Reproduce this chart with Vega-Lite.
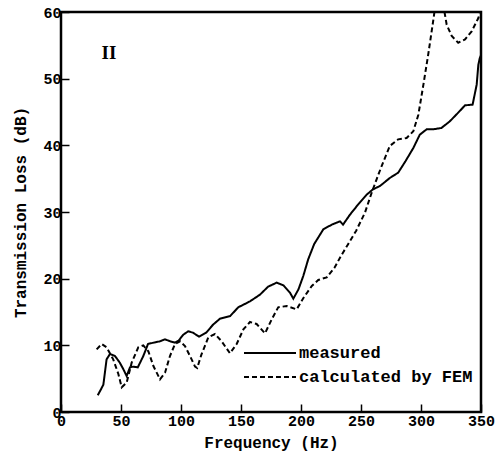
{
  "$schema": "https://vega.github.io/schema/vega-lite/v6.json",
  "autosize": {"type": "none"},
  "width": 420,
  "height": 400,
  "padding": {"left": 61, "top": 12, "right": 21, "bottom": 43},
  "background": "white",
  "config": {
    "view": {"stroke": "black", "strokeWidth": 2.5},
    "axis": {
      "labelFont": "Liberation Mono", "labelFontWeight": "bold", "labelFontSize": 15, "labelColor": "black",
      "titleFont": "Liberation Mono", "titleFontWeight": "bold", "titleFontSize": 16, "titleColor": "black",
      "grid": false, "zindex": 1
    }
  },
  "datasets": {
    "curves": [
      {"f": 30.6, "tl": 2.5, "series": "measured"},
      {"f": 33, "tl": 3.3, "series": "measured"},
      {"f": 35.3, "tl": 4.1, "series": "measured"},
      {"f": 37, "tl": 6.5, "series": "measured"},
      {"f": 38, "tl": 7.9, "series": "measured"},
      {"f": 40.8, "tl": 8.7, "series": "measured"},
      {"f": 45, "tl": 8.4, "series": "measured"},
      {"f": 49, "tl": 7.4, "series": "measured"},
      {"f": 52, "tl": 6.4, "series": "measured"},
      {"f": 54.7, "tl": 5.4, "series": "measured"},
      {"f": 57.5, "tl": 6.7, "series": "measured"},
      {"f": 60, "tl": 6.8, "series": "measured"},
      {"f": 64, "tl": 6.7, "series": "measured"},
      {"f": 68.6, "tl": 8.4, "series": "measured"},
      {"f": 72.5, "tl": 10.2, "series": "measured"},
      {"f": 77, "tl": 10.4, "series": "measured"},
      {"f": 82.5, "tl": 10.6, "series": "measured"},
      {"f": 86.7, "tl": 10.9, "series": "measured"},
      {"f": 91, "tl": 10.6, "series": "measured"},
      {"f": 95, "tl": 10.4, "series": "measured"},
      {"f": 98, "tl": 10.7, "series": "measured"},
      {"f": 101.9, "tl": 11.6, "series": "measured"},
      {"f": 106, "tl": 12.1, "series": "measured"},
      {"f": 110, "tl": 11.9, "series": "measured"},
      {"f": 115, "tl": 11.3, "series": "measured"},
      {"f": 121, "tl": 11.9, "series": "measured"},
      {"f": 126.7, "tl": 13.1, "series": "measured"},
      {"f": 132.5, "tl": 14.0, "series": "measured"},
      {"f": 141, "tl": 14.4, "series": "measured"},
      {"f": 147.7, "tl": 15.7, "series": "measured"},
      {"f": 157.5, "tl": 16.6, "series": "measured"},
      {"f": 165.8, "tl": 17.6, "series": "measured"},
      {"f": 172.6, "tl": 18.8, "series": "measured"},
      {"f": 179.7, "tl": 19.4, "series": "measured"},
      {"f": 185.4, "tl": 19.0, "series": "measured"},
      {"f": 190.8, "tl": 17.9, "series": "measured"},
      {"f": 193.6, "tl": 17.0, "series": "measured"},
      {"f": 197.9, "tl": 18.4, "series": "measured"},
      {"f": 201.9, "tl": 20.4, "series": "measured"},
      {"f": 206, "tl": 22.9, "series": "measured"},
      {"f": 211, "tl": 25.2, "series": "measured"},
      {"f": 218.6, "tl": 27.4, "series": "measured"},
      {"f": 225.6, "tl": 28.1, "series": "measured"},
      {"f": 232.5, "tl": 28.6, "series": "measured"},
      {"f": 235, "tl": 28.1, "series": "measured"},
      {"f": 240.8, "tl": 29.6, "series": "measured"},
      {"f": 247.5, "tl": 31.1, "series": "measured"},
      {"f": 254.7, "tl": 32.6, "series": "measured"},
      {"f": 260, "tl": 33.4, "series": "measured"},
      {"f": 265.8, "tl": 33.9, "series": "measured"},
      {"f": 274, "tl": 35.1, "series": "measured"},
      {"f": 281, "tl": 35.9, "series": "measured"},
      {"f": 287, "tl": 37.6, "series": "measured"},
      {"f": 293.6, "tl": 39.6, "series": "measured"},
      {"f": 299, "tl": 41.6, "series": "measured"},
      {"f": 304.7, "tl": 42.4, "series": "measured"},
      {"f": 310, "tl": 42.4, "series": "measured"},
      {"f": 317, "tl": 42.6, "series": "measured"},
      {"f": 324, "tl": 43.6, "series": "measured"},
      {"f": 331, "tl": 44.9, "series": "measured"},
      {"f": 336.7, "tl": 46.0, "series": "measured"},
      {"f": 343, "tl": 46.1, "series": "measured"},
      {"f": 346.4, "tl": 49.1, "series": "measured"},
      {"f": 347.8, "tl": 52.1, "series": "measured"},
      {"f": 349, "tl": 53.1, "series": "measured"},
      {"f": 350, "tl": 53.5, "series": "measured"},
      {"f": 29.7, "tl": 9.4, "series": "calculated by FEM"},
      {"f": 33.9, "tl": 10.2, "series": "calculated by FEM"},
      {"f": 38, "tl": 9.7, "series": "calculated by FEM"},
      {"f": 43.5, "tl": 7.9, "series": "calculated by FEM"},
      {"f": 47.8, "tl": 5.7, "series": "calculated by FEM"},
      {"f": 50.6, "tl": 3.7, "series": "calculated by FEM"},
      {"f": 54.7, "tl": 4.4, "series": "calculated by FEM"},
      {"f": 58.9, "tl": 7.4, "series": "calculated by FEM"},
      {"f": 64.4, "tl": 9.7, "series": "calculated by FEM"},
      {"f": 68.6, "tl": 10.0, "series": "calculated by FEM"},
      {"f": 72.8, "tl": 9.1, "series": "calculated by FEM"},
      {"f": 77, "tl": 6.9, "series": "calculated by FEM"},
      {"f": 82.5, "tl": 4.9, "series": "calculated by FEM"},
      {"f": 86.7, "tl": 5.9, "series": "calculated by FEM"},
      {"f": 90.8, "tl": 8.4, "series": "calculated by FEM"},
      {"f": 95, "tl": 10.2, "series": "calculated by FEM"},
      {"f": 99.2, "tl": 10.6, "series": "calculated by FEM"},
      {"f": 103.3, "tl": 9.9, "series": "calculated by FEM"},
      {"f": 107.5, "tl": 8.4, "series": "calculated by FEM"},
      {"f": 111.7, "tl": 6.8, "series": "calculated by FEM"},
      {"f": 113.5, "tl": 6.6, "series": "calculated by FEM"},
      {"f": 117, "tl": 8.6, "series": "calculated by FEM"},
      {"f": 122.8, "tl": 11.2, "series": "calculated by FEM"},
      {"f": 128.3, "tl": 11.7, "series": "calculated by FEM"},
      {"f": 133.9, "tl": 10.6, "series": "calculated by FEM"},
      {"f": 140.8, "tl": 8.8, "series": "calculated by FEM"},
      {"f": 146.4, "tl": 10.2, "series": "calculated by FEM"},
      {"f": 152, "tl": 12.4, "series": "calculated by FEM"},
      {"f": 157.5, "tl": 13.5, "series": "calculated by FEM"},
      {"f": 163, "tl": 13.2, "series": "calculated by FEM"},
      {"f": 170, "tl": 11.8, "series": "calculated by FEM"},
      {"f": 175.6, "tl": 13.9, "series": "calculated by FEM"},
      {"f": 181, "tl": 15.7, "series": "calculated by FEM"},
      {"f": 188, "tl": 15.9, "series": "calculated by FEM"},
      {"f": 196.4, "tl": 15.4, "series": "calculated by FEM"},
      {"f": 202, "tl": 17.1, "series": "calculated by FEM"},
      {"f": 209, "tl": 18.9, "series": "calculated by FEM"},
      {"f": 214.4, "tl": 19.8, "series": "calculated by FEM"},
      {"f": 221.4, "tl": 20.2, "series": "calculated by FEM"},
      {"f": 227.8, "tl": 21.6, "series": "calculated by FEM"},
      {"f": 233.3, "tl": 23.4, "series": "calculated by FEM"},
      {"f": 239, "tl": 25.1, "series": "calculated by FEM"},
      {"f": 246, "tl": 27.2, "series": "calculated by FEM"},
      {"f": 253.3, "tl": 29.9, "series": "calculated by FEM"},
      {"f": 258.9, "tl": 32.9, "series": "calculated by FEM"},
      {"f": 263, "tl": 34.9, "series": "calculated by FEM"},
      {"f": 267.2, "tl": 36.9, "series": "calculated by FEM"},
      {"f": 274, "tl": 39.9, "series": "calculated by FEM"},
      {"f": 281, "tl": 40.9, "series": "calculated by FEM"},
      {"f": 288, "tl": 41.1, "series": "calculated by FEM"},
      {"f": 293.6, "tl": 42.1, "series": "calculated by FEM"},
      {"f": 297.8, "tl": 44.6, "series": "calculated by FEM"},
      {"f": 302, "tl": 49.1, "series": "calculated by FEM"},
      {"f": 306, "tl": 53.6, "series": "calculated by FEM"},
      {"f": 309.7, "tl": 58.1, "series": "calculated by FEM"},
      {"f": 312, "tl": 61, "series": "calculated by FEM"},
      {"f": 314, "tl": 66, "series": "calculated by FEM"},
      {"f": 316.5, "tl": 66, "series": "calculated by FEM"},
      {"f": 318.6, "tl": 61, "series": "calculated by FEM"},
      {"f": 321.4, "tl": 58.1, "series": "calculated by FEM"},
      {"f": 325.6, "tl": 56.4, "series": "calculated by FEM"},
      {"f": 331, "tl": 55.4, "series": "calculated by FEM"},
      {"f": 336.7, "tl": 55.9, "series": "calculated by FEM"},
      {"f": 342.2, "tl": 57.1, "series": "calculated by FEM"},
      {"f": 347.8, "tl": 59.1, "series": "calculated by FEM"},
      {"f": 349, "tl": 59.8, "series": "calculated by FEM"}
    ],
    "panel": [
      {"f": 40, "tl": 53.8, "label": "II"}
    ]
  },
  "encoding": {
    "x": {"field": "f", "type": "quantitative", "scale": {"domain": [0, 350], "nice": false},
          "axis": {"values": [0, 50, 100, 150, 200, 250, 300, 350], "title": "Frequency (Hz)", "domain": false, "ticks": true, "tickColor": "black", "tickWidth": 1.5, "tickSize": -8, "labelPadding": 9, "titleY": 30, "titleBaseline": "middle", "labelFlush": false}},
    "y": {"field": "tl", "type": "quantitative", "scale": {"domain": [0, 60], "nice": false},
          "axis": {"values": [0, 10, 20, 30, 40, 50, 60], "title": "Transmission Loss (dB)", "domain": false, "ticks": true, "tickColor": "black", "tickWidth": 1.5, "tickSize": -8, "labelPadding": 8, "titleX": -41, "titleBaseline": "middle", "labelFlush": false}}
  },
  "layer": [
    {
      "data": {"name": "curves"},
      "mark": {"type": "line", "clip": true, "strokeWidth": 2, "color": "black", "strokeCap": "butt"},
      "encoding": {
        "strokeDash": {"field": "series", "type": "nominal",
          "scale": {"domain": ["measured", "calculated by FEM"], "range": [[1, 0], [5, 3]]},
          "legend": {"orient": "none", "legendX": 182, "legendY": 333, "title": null, "symbolType": "stroke", "symbolSize": 2704, "symbolStrokeWidth": 2, "symbolStrokeColor": "black", "clipHeight": 16, "rowPadding": 7, "labelOffset": 2, "labelLimit": 400, "labelFont": "Liberation Mono", "labelFontWeight": "bold", "labelFontSize": 17, "labelColor": "black", "padding": 0}
        },
        "detail": {"field": "series"}
      }
    },
    {
      "data": {"name": "panel"},
      "mark": {"type": "text", "font": "Liberation Serif", "fontWeight": "bold", "fontSize": 19, "color": "black", "align": "center", "baseline": "middle"},
      "encoding": {"text": {"field": "label"}}
    }
  ]
}
